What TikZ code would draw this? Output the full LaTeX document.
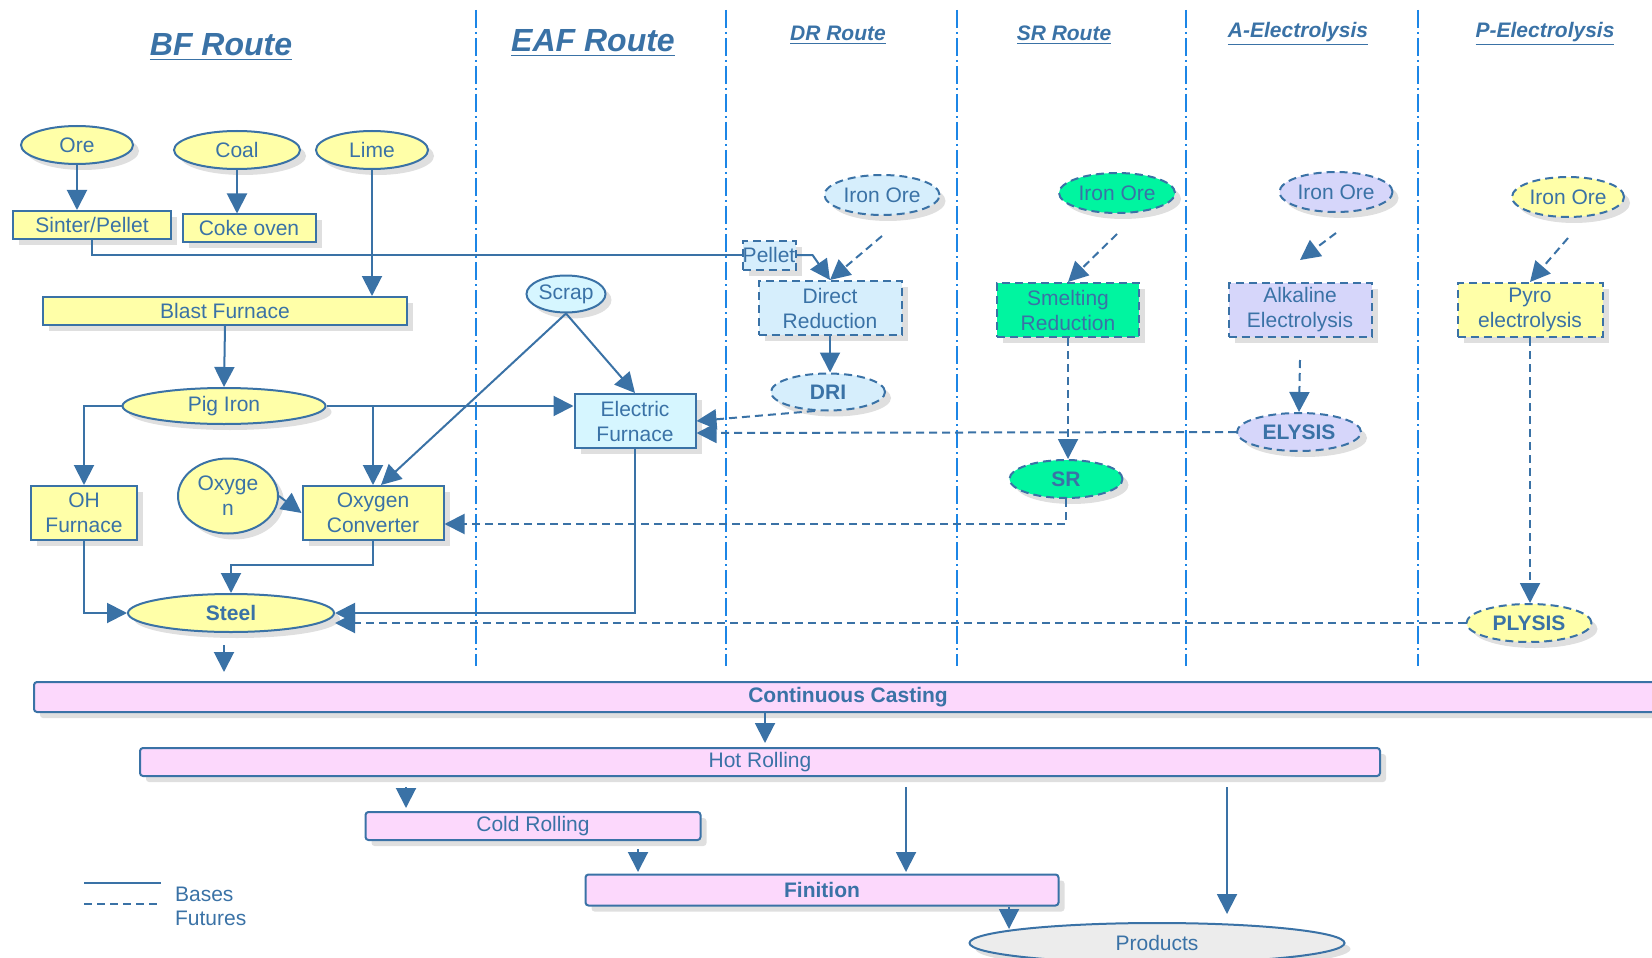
\documentclass[tikz,border=0pt]{standalone}
\usepackage{fontspec}
\setmainfont{Liberation Sans}
\usepackage[svgnames]{xcolor}
\usepackage{tikz}
\usetikzlibrary{positioning, arrows.meta, shapes.geometric, shadows}

\definecolor{flowblue}{RGB}{58,114,166}
\definecolor{routeblue}{RGB}{28,134,230}
\definecolor{bfyellow}{RGB}{255,255,168}
\definecolor{eafcyan}{RGB}{214,246,255}
\definecolor{drblue}{RGB}{214,238,252}
\definecolor{srgreen}{RGB}{0,245,160}
\definecolor{alkviolet}{RGB}{214,214,250}
\definecolor{millpink}{RGB}{252,216,252}
\definecolor{prodgray}{RGB}{236,236,236}

\begin{document}
\begin{tikzpicture}[x=0.5pt, y=-0.5pt,
        font=\fontsize{10.5}{12.5}\selectfont, text=flowblue,
        base/.style={draw=flowblue, line width=1pt, inner sep=0pt, align=center,
            drop shadow={shadow xshift=3pt, shadow yshift=-3pt, opacity=0.25}},
        proc/.style={base, rectangle},
        prod/.style={base, ellipse},
        mill/.style={proc, fill=millpink, rounded corners=1.5pt},
        future/.style={dash pattern=on 4pt off 2.5pt},
        flow/.style={color=flowblue, line width=1pt},
        arr/.style={flow, -{Triangle[length=10pt, width=10pt]}},
        route/.style={draw=routeblue, line width=0.8pt, dash pattern=on 9pt off 2pt on 1pt off 2pt},
        title/.style={font=\fontsize{16}{19}\selectfont\bfseries\itshape},
        subtitle/.style={font=\fontsize{10.5}{13}\selectfont\bfseries\itshape}]
    \useasboundingbox (0,0) rectangle (1652,957);

    % route separators
    \foreach \x in {476,726,957,1186,1418}
        \draw[route] (\x,10) -- (\x,666);

    % titles
    \node[title] (bfT) at (221,47) {\underline{BF Route}};
    \node[title] (eafT) at (593,43) {\underline{EAF Route}};
    \node[subtitle] (drT) at (838,35) {\underline{DR Route}};
    \node[subtitle] (srT) at (1064,35) {\underline{SR Route}};
    \node[subtitle] (aT) at (1298,34) {\underline{A-Electrolysis}};
    \node[subtitle] (pT) at (1545,34) {\underline{P-Electrolysis}};

    % BF route
    \node[prod, fill=bfyellow, minimum width=56pt, minimum height=19pt] (ore) at (77,145) {Ore};
    \node[prod, fill=bfyellow, minimum width=63pt, minimum height=19pt] (coal) at (237,150) {Coal};
    \node[prod, fill=bfyellow, minimum width=56pt, minimum height=19pt] (lime) at (372,150) {Lime};
    \node[proc, fill=bfyellow, minimum width=79pt, minimum height=14pt] (sinter) at (92,225) {Sinter/Pellet};
    \node[proc, fill=bfyellow, minimum width=66.5pt, minimum height=13.5pt] (coke) at (249,228) {Coke oven};
    \node[proc, fill=bfyellow, minimum width=182pt, minimum height=14pt] (bf) at (225,311) {Blast Furnace};
    \node[prod, fill=bfyellow, minimum width=101.5pt, minimum height=18pt] (pig) at (224,406) {Pig Iron};
    \node[proc, fill=bfyellow, minimum width=53pt, minimum height=27pt] (ohf) at (84,513) {OH\\Furnace};
    \node[prod, fill=bfyellow, minimum width=50pt, minimum height=37.5pt] (oxy) at (228,496) {Oxyge\\n};
    \node[proc, fill=bfyellow, minimum width=70.5pt, minimum height=27pt] (conv) at (373,513) {Oxygen\\Converter};
    \node[prod, fill=bfyellow, minimum width=103pt, minimum height=19pt, font=\fontsize{10.5}{12.5}\selectfont\bfseries] (steel) at (231,613) {Steel};

    % EAF route
    \node[prod, fill=eafcyan, minimum width=39.5pt, minimum height=18.5pt] (scrap) at (566,294) {Scrap};
    \node[proc, fill=eafcyan, minimum width=60.5pt, minimum height=27pt] (eaf) at (635,421) {Electric\\Furnace};

    % DR route
    \node[prod, future, fill=drblue, minimum width=57.5pt, minimum height=20pt] (drOre) at (882,195) {Iron Ore};
    \node[proc, future, fill=drblue, minimum width=26.5pt, minimum height=14.5pt] (pellet) at (769,255) {Pellet};
    \node[proc, future, fill=drblue, minimum width=71.5pt, minimum height=27pt] (dred) at (830,308) {Direct\\Reduction};
    \node[prod, future, fill=drblue, minimum width=57pt, minimum height=18.5pt, font=\fontsize{10.5}{12.5}\selectfont\bfseries] (dri) at (828,392) {DRI};

    % SR route
    \node[prod, future, fill=srgreen, minimum width=58pt, minimum height=20pt] (srOre) at (1117,193) {Iron Ore};
    \node[proc, future, fill=srgreen, minimum width=71pt, minimum height=27pt] (smelt) at (1068,310) {Smelting\\Reduction};
    \node[prod, future, fill=srgreen, minimum width=56.5pt, minimum height=19pt, font=\fontsize{10.5}{12.5}\selectfont\bfseries] (sr) at (1066,479) {SR};

    % alkaline electrolysis
    \node[prod, future, fill=alkviolet, minimum width=56.5pt, minimum height=20pt] (aOre) at (1336,192) {Iron Ore};
    \node[proc, future, fill=alkviolet, minimum width=71.5pt, minimum height=27pt] (alk) at (1300,310) {Alkaline\\Electrolysis};
    \node[prod, future, fill=alkviolet, minimum width=62pt, minimum height=19pt, font=\fontsize{10.5}{12.5}\selectfont\bfseries] (elysis) at (1299,432) {ELYSIS};

    % pyro electrolysis
    \node[prod, future, fill=bfyellow, minimum width=56pt, minimum height=20pt] (pOre) at (1568,197) {Iron Ore};
    \node[proc, future, fill=bfyellow, minimum width=72.5pt, minimum height=27pt] (pyro) at (1530,310) {Pyro\\electrolysis};
    \node[prod, future, fill=bfyellow, minimum width=62.5pt, minimum height=19pt, font=\fontsize{10.5}{12.5}\selectfont\bfseries] (plysis) at (1529,623) {PLYSIS};

    % downstream
    \node[mill, minimum width=814pt, minimum height=15pt, font=\fontsize{10.5}{12.5}\selectfont\bfseries] (cc) at (848,697) {Continuous Casting};
    \node[mill, minimum width=620pt, minimum height=14pt] (hr) at (760,762) {Hot Rolling};
    \node[mill, minimum width=167.5pt, minimum height=14pt] (cr) at (533,826) {Cold Rolling};
    \node[mill, minimum width=236.5pt, minimum height=15.5pt, font=\fontsize{10.5}{12.5}\selectfont\bfseries] (fin) at (822,890) {Finition};
    \node[prod, fill=prodgray, minimum width=187.5pt, minimum height=20pt] (prod) at (1157,943) {Products};

    % bases
    \path[arr]
        (ore.south) edge (ore.south |- sinter.north)
        (coal.south) edge (coal.south |- coke.north)
        (lime.south) edge (lime.south |- bf.north)
        (bf.south) edge (pig.north)
        (scrap.south) edge ([xshift=4pt]conv.north)
        (scrap.south) edge (eaf.north)
        (oxy.east) edge (conv.west)
        (dred.south) edge (dred.south |- dri.north);
    \draw[flow] (sinter.south) |- (pellet.west);
    \draw[arr] (pellet.east) -- ++(16,0) -- (dred.north);
    \draw[arr] (pig.west) -| (ohf.north);
    \draw[arr] (pig.east) -- (pig.east -| eaf.west);
    \draw[arr] (pig.east) -| (conv.north);
    \draw[arr] (ohf.south) |- (steel.west);
    \draw[arr] (conv.south) -- ++(0,24) -| (steel.north);
    \draw[arr] (eaf.south) |- (steel.east);

    % futures
    \draw[arr, future] ([yshift=-10pt]drOre.south) -- (dred.north);
    \draw[arr, future] (dri.235) -- (eaf.east);
    \draw[arr, future] (elysis.west) -- ([yshift=-6pt]eaf.east);
    \draw[arr, future] ([yshift=-10pt]srOre.south) -- (smelt.north);
    \draw[arr, future] (smelt.south) -- (smelt.south |- sr.north);
    \draw[arr, future] (sr.south) |- ([yshift=-5.5pt]conv.east);
    \draw[arr, future] ([yshift=-10pt]aOre.south) -- ([yshift=11pt]alk.north);
    \draw[arr, future] ([yshift=-11pt]alk.south) -- (elysis.north);
    \draw[arr, future] ([yshift=-10pt]pOre.south) -- (pyro.north);
    \draw[arr, future] (pyro.south) -- (pyro.south |- plysis.north);
    \draw[arr, future] (plysis.west) -- (plysis.west -| steel.east);

    % downstream flow
    \coordinate (ccIn) at (224,672);
    \coordinate (hrIn) at (765,743);
    \coordinate (crIn) at (406,808);
    \coordinate (finIn) at (906,872);
    \coordinate (prodIn) at (1227,914);
    \coordinate (finCr) at (638,872);
    \coordinate (prodFin) at (1009,929);
    \draw[arr, shorten <=6pt] (steel.south -| ccIn) -- (ccIn);
    \draw[arr] (cc.south -| hrIn) -- (hrIn);
    \draw[arr, shorten <=5pt] (hr.south -| crIn) -- (crIn);
    \draw[arr, shorten <=5pt] (hr.south -| finIn) -- (finIn);
    \draw[arr, shorten <=5pt] (hr.south -| prodIn) -- (prodIn);
    \draw[arr, shorten <=4pt] (cr.south -| finCr) -- (finCr);
    \draw[arr] (fin.south -| prodFin) -- (prodFin);

    % legend
    \coordinate (lgA) at (84,883);
    \coordinate (lgB) at (161,883);
    \coordinate (lgC) at (84,904);
    \coordinate (lgD) at (161,904);
    \draw[flow] (lgA) -- (lgB);
    \draw[flow, future] (lgC) -- (lgD);
    \node[anchor=west] (bases) at (168,894) {Bases};
    \node[anchor=west] (futures) at (168,918) {Futures};
\end{tikzpicture}
\end{document}
